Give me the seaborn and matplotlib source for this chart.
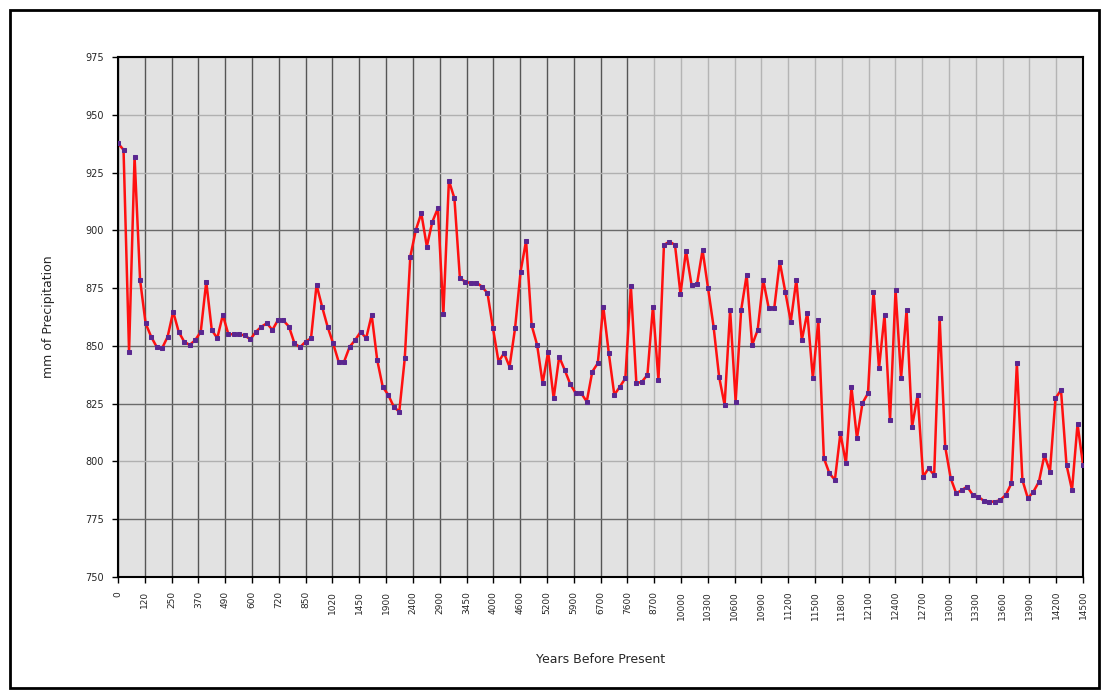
import numpy as np
import pandas as pd
import matplotlib
matplotlib.use("Agg")
import matplotlib.pyplot as plt
import seaborn as sns
from matplotlib.patches import Rectangle

# ---- data ----
precip_mm = [
    937.7, 934.8, 847.5, 931.9, 878.5, 859.8, 854.0, 849.6, 849.0, 854.0,
    864.8, 856.1, 851.8, 850.4, 852.5, 856.1, 877.8, 856.9, 853.3, 863.4,
    855.1, 855.0, 855.0, 854.5, 852.8, 856.1, 858.3, 859.8, 856.9, 861.2,
    861.0, 858.3, 851.1, 849.4, 851.8, 853.3, 876.4, 867.0, 858.3, 851.1,
    843.2, 843.2, 849.6, 852.5, 856.1, 853.3, 863.4, 843.9, 832.3, 828.8,
    823.7, 821.5, 844.6, 888.6, 900.1, 907.4, 893.0,
    903.7, 909.5, 863.8, 921.5, 913.9, 879.2, 877.8, 877.1, 877.4, 875.6,
    872.8, 857.6, 843.2, 846.8, 841.0, 857.6, 882.1, 895.5, 859.0, 850.4,
    833.8, 847.5, 827.3, 845.3, 839.6, 833.5, 829.5, 829.5, 825.9, 838.8,
    842.5, 867.0, 846.8, 828.8, 832.3, 836.0, 875.9, 833.8, 834.5, 837.4,
    867.0, 835.2, 893.7, 895.1, 893.7, 872.5, 891.2, 876.4, 876.8, 891.5,
    874.9,
    858.3, 836.7, 824.4, 865.5, 825.9, 865.5, 880.7, 850.4, 856.9, 878.5,
    866.3, 866.3, 886.4, 873.5, 860.5, 878.5, 852.5, 864.4, 836.0, 861.2,
    801.4, 794.9, 792.0, 812.2, 799.2, 832.3, 810.0, 825.2, 829.5, 873.5,
    840.3, 863.4, 818.0, 874.2, 836.0, 865.5, 815.0, 828.8, 793.4, 797.0,
    794.1, 861.9, 806.4, 792.7, 786.2, 787.6, 789.1, 785.5, 784.7, 783.0,
    782.6, 782.6, 783.3, 785.5, 790.5, 842.5, 792.0, 784.0, 786.9, 791.2,
    802.8, 795.6, 827.3, 830.9, 798.5, 787.6, 816.2, 798.5,
]

x_tick_labels = [
    "0", "120", "250", "370", "490", "600", "720", "850",
    "1020", "1450", "1900", "2400", "2900", "3450", "4000", "4600",
    "5200", "5900", "6700", "7600", "8700",
    "10000", "10300", "10600", "10900", "11200", "11500", "11800",
    "12100", "12400", "12700", "13000", "13300", "13600", "13900",
    "14200", "14500",
]

y_ticks = [750, 775, 800, 825, 850, 875, 900, 925, 950, 975]
strong_y = [775, 825, 850, 900]

df = pd.DataFrame({"sample": np.arange(len(precip_mm)), "mm": precip_mm})

sns.set_theme(style="white")
plt.rcParams["font.family"] = ["DejaVu Sans"]

fig = plt.figure(figsize=(11.02, 6.91), dpi=100)
ax = fig.add_axes([0.1071, 0.1650, 0.8757, 0.7525])
ax.set_facecolor("#e2e2e2")

n = len(precip_mm)
tick_pos = np.linspace(0, n - 1, len(x_tick_labels))

# grid
for i, tp in enumerate(tick_pos):
    ax.axvline(tp, color="#555555" if i < 20 else "#b4b4b4", lw=1.0, zorder=1)
for yt in y_ticks:
    ax.axhline(yt, color="#6a6a6a" if yt in strong_y else "#b0b0b0", lw=1.0, zorder=1)

sns.lineplot(data=df, x="sample", y="mm", ax=ax, color="#ff1010", lw=1.8,
             marker="s", markersize=3.2, markerfacecolor="#5a2790",
             markeredgecolor="#5a2790", zorder=3)

ax.set_xlim(0, n - 1)
ax.set_ylim(750, 975)
ax.set_yticks(y_ticks)
ax.set_yticklabels([str(v) for v in y_ticks], fontsize=7)
ax.set_xticks(tick_pos)
ax.set_xticklabels(x_tick_labels, rotation=90, fontsize=6.5)
ax.tick_params(axis="both", direction="out", length=4, width=1, color="black",
               bottom=True, left=True, pad=6)

for s in ax.spines.values():
    s.set_visible(True)
    s.set_color("black")
    s.set_linewidth(1.5)

ax.set_xlabel("Years Before Present", fontsize=9, labelpad=24)
ax.set_ylabel("mm of Precipitation", fontsize=9, labelpad=22)

# outer chart border
fig.patches.append(Rectangle((0.009, 0.004), 0.988, 0.982, transform=fig.transFigure,
                             fill=False, edgecolor="black", lw=2.0))

fig.savefig("out.png", dpi=100, facecolor="white")
